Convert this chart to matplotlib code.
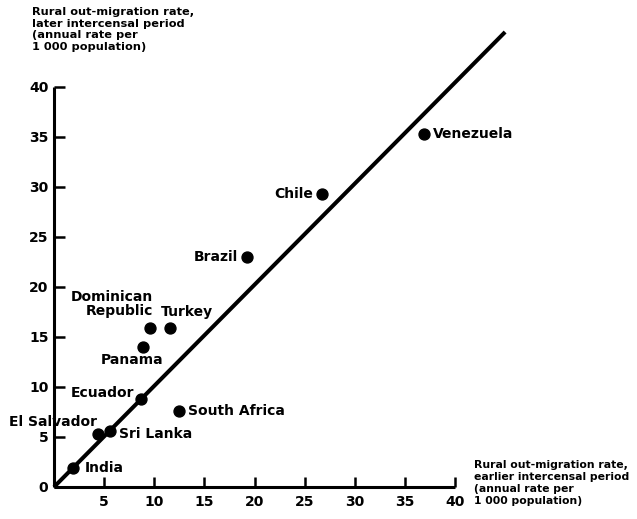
import matplotlib
matplotlib.use("Agg")
import matplotlib.pyplot as plt

# Rural out-migration rates (annual rate per 1 000 population)
countries = ["Venezuela", "Chile", "Brazil", "Dominican\nRepublic", "Turkey",
             "Panama", "Ecuador", "South Africa", "El Salvador", "Sri Lanka", "India"]
earlier_rate = [36.9, 26.7, 19.3, 9.6, 11.6, 8.9, 8.7, 12.5, 4.4, 5.6, 1.9]
later_rate = [35.3, 29.3, 23.0, 15.9, 15.9, 14.0, 8.8, 7.6, 5.3, 5.6, 1.9]

# equal-rate reference line
ref_x = [0, 45]
ref_y = [0, 45.5]

x_ticks = [5, 10, 15, 20, 25, 30, 35, 40]
y_ticks = [0, 5, 10, 15, 20, 25, 30, 35, 40]

# label placement: (dx, dy) in pixels, horizontal alignment
label_style = {
    "Venezuela": (9, 0, "left"),
    "Chile": (-9, 0, "right"),
    "Brazil": (-9, 0, "right"),
    "Dominican\nRepublic": (3, 24, "right"),
    "Turkey": (-9, 16, "left"),
    "Panama": (-11, -13, "center"),
    "Ecuador": (-7, 6, "right"),
    "South Africa": (9, 0, "left"),
    "El Salvador": (-1, 12, "right"),
    "Sri Lanka": (9, -3, "left"),
    "India": (12, 0, "left"),
}

W, H = 637, 519
fig = plt.figure(figsize=(W / 100, H / 100), dpi=100)
fig.patch.set_facecolor("white")
ax = fig.add_axes([54 / W, 1 - 487 / H, 401 / W, 400 / H])

font = {"family": "DejaVu Sans", "weight": "bold"}

ax.plot(ref_x, ref_y, color="black", lw=2.9, clip_on=False, solid_capstyle="butt", zorder=2)
ax.scatter(earlier_rate, later_rate, s=62, color="black", zorder=3, clip_on=False)

for name, x, y in zip(countries, earlier_rate, later_rate):
    dx, dy, ha = label_style[name]
    ax.annotate(name, (x, y), xytext=(dx, dy), textcoords="offset pixels",
                ha=ha, va="center", fontsize=10, linespacing=1.05,
                multialignment="right", **font)

ax.set_xlim(0, 40)
ax.set_ylim(0, 40)
for side in ("top", "right"):
    ax.spines[side].set_visible(False)
for side in ("left", "bottom"):
    ax.spines[side].set_linewidth(2.2)
    ax.spines[side].set_capstyle("butt")

ax.set_xticks(x_ticks)
ax.set_yticks(y_ticks)
ax.set_xticklabels([str(t) for t in x_ticks], **font, fontsize=10)
ax.set_yticklabels([str(t) for t in y_ticks], **font, fontsize=10)
ax.tick_params(axis="x", direction="in", length=7.5, width=1.8, pad=6)
ax.tick_params(axis="y", direction="in", length=8, width=1.8, pad=4)

fig.text(32 / W, 1 - 7 / H,
         "Rural out-migration rate,\nlater intercensal period\n(annual rate per\n1 000 population)",
         ha="left", va="top", fontsize=8.2, linespacing=1.2, **font)
fig.text(474 / W, 1 - 460 / H,
         "Rural out-migration rate,\nearlier intercensal period\n(annual rate per\n1 000 population)",
         ha="left", va="top", fontsize=7.8, linespacing=1.25, **font)

fig.savefig("out.png", dpi=100, facecolor="white")
